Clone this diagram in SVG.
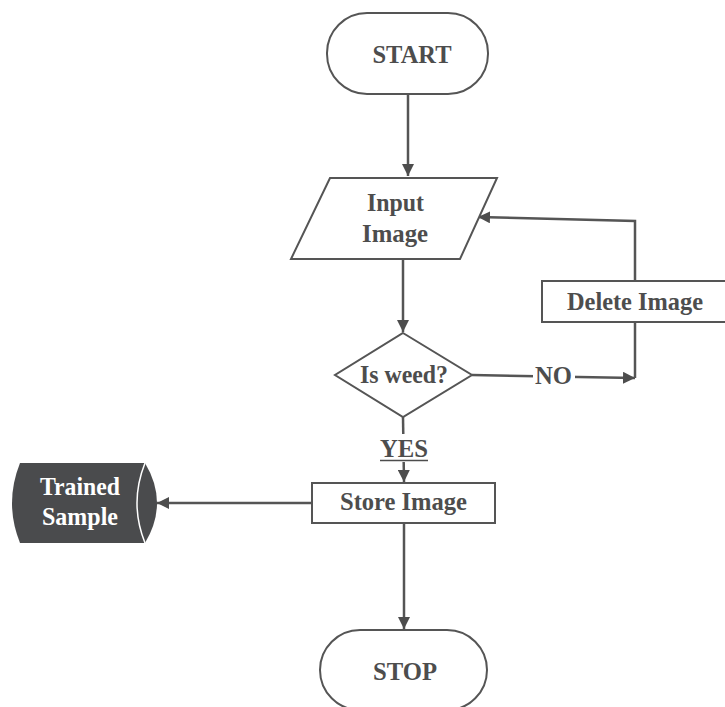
<svg xmlns="http://www.w3.org/2000/svg" width="725" height="707" viewBox="0 0 725 707">
<defs>
<style>
.shape{fill:#fff;stroke:#555;stroke-width:2}
.t{font-family:"Liberation Serif","Times New Roman",serif;font-weight:bold;font-size:26px;fill:#4d4d4d;text-anchor:middle}
.conn{fill:none;stroke:#555;stroke-width:2.5}
</style>
<marker id="ah" viewBox="0 0 12 12" refX="12" refY="6" markerWidth="12" markerHeight="12" markerUnits="userSpaceOnUse" orient="auto">
<path d="M0,0 L12,6 L0,12 z" fill="#4d4d4d"/>
</marker>
</defs>
<rect width="725" height="707" fill="#fff"/>
<g id="connectors">
<path class="conn" d="M408,94 L408,176" marker-end="url(#ah)"/>
<path class="conn" d="M403,259 L403,332" marker-end="url(#ah)"/>
<path class="conn" d="M472,375 L635,378" marker-end="url(#ah)"/>
<path class="conn" d="M635,322 L635,378"/>
<path class="conn" d="M635,281 L635,221 L478,217" marker-end="url(#ah)"/>
<path class="conn" d="M403,417 L404,482" marker-end="url(#ah)"/>
<path class="conn" d="M404,523 L404,629" marker-end="url(#ah)"/>
<path class="conn" d="M312,503 L157,503" marker-end="url(#ah)"/>
<rect x="533" y="364" width="42" height="24" fill="#fff"/>
<text class="t" x="553.5" y="384" textLength="37" lengthAdjust="spacingAndGlyphs">NO</text>
<rect x="378" y="434" width="52" height="28" fill="#fff"/>
<text class="t" x="404" y="457" textLength="48" lengthAdjust="spacingAndGlyphs">YES</text>
<line x1="380" y1="460.5" x2="428" y2="460.5" stroke="#4d4d4d" stroke-width="1.5"/>
</g>
<g id="start">
<rect class="shape" x="327" y="13" width="161" height="81" rx="40" ry="40"/>
<text class="t" x="412" y="63" textLength="79" lengthAdjust="spacingAndGlyphs">START</text>
</g>
<g id="input-image">
<polygon class="shape" points="330,178 497,178 460,259 291,259"/>
<text class="t" x="395.5" y="211" textLength="57" lengthAdjust="spacingAndGlyphs">Input</text>
<text class="t" x="395" y="242" textLength="66" lengthAdjust="spacingAndGlyphs">Image</text>
</g>
<g id="is-weed">
<polygon class="shape" points="403,333 472,375 403,417 335,375"/>
<text class="t" x="404" y="383" textLength="88" lengthAdjust="spacingAndGlyphs">Is weed?</text>
</g>
<g id="delete-image">
<rect class="shape" x="542" y="281" width="190" height="41"/>
<text class="t" x="635" y="310" textLength="136" lengthAdjust="spacingAndGlyphs">Delete Image</text>
</g>
<g id="store-image">
<rect class="shape" x="312" y="483" width="183" height="40"/>
<text class="t" x="403.5" y="510" textLength="127" lengthAdjust="spacingAndGlyphs">Store Image</text>
</g>
<g id="trained-sample">
<path d="M20,463 L145,463 Q169,503 145,543 L20,543 Q4,503 20,463 z" fill="#4a4b4d"/>
<path d="M145,463 Q129,503 145,543" fill="none" stroke="#fff" stroke-width="1.5"/>
<text class="t" x="80" y="495" textLength="80" lengthAdjust="spacingAndGlyphs" style="fill:#fff">Trained</text>
<text class="t" x="80" y="525" textLength="76" lengthAdjust="spacingAndGlyphs" style="fill:#fff">Sample</text>
</g>
<g id="stop">
<rect class="shape" x="320" y="630" width="167" height="80" rx="40" ry="40"/>
<text class="t" x="405" y="680" textLength="64" lengthAdjust="spacingAndGlyphs">STOP</text>
</g>
</svg>
